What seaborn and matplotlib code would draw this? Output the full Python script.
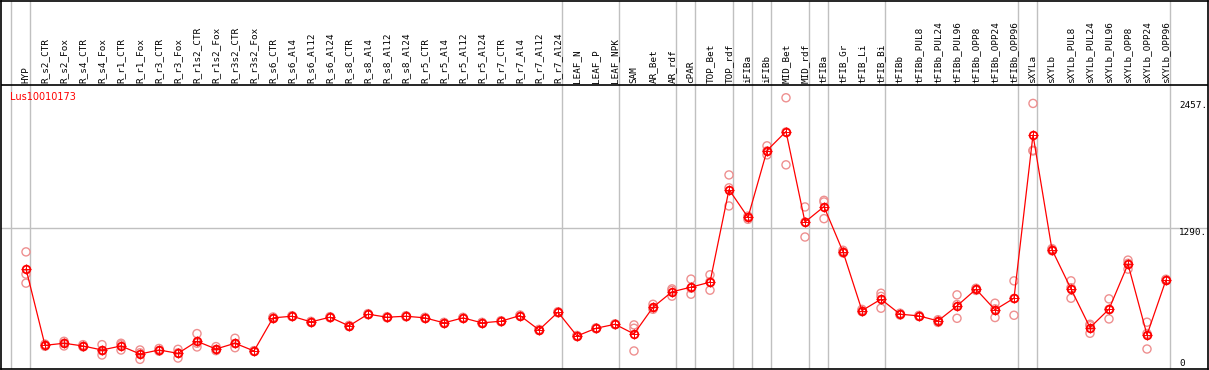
import numpy as np
import pandas as pd
import seaborn as sns
import matplotlib.pyplot as plt

# Sample names, in the order shown
samples = ['HYP', 'R_s2_CTR', 'R_s2_Fox', 'R_s4_CTR', 'R_s4_Fox', 'R_r1_CTR', 'R_r1_Fox',
           'R_r3_CTR', 'R_r3_Fox', 'R_r1s2_CTR', 'R_r1s2_Fox', 'R_r3s2_CTR', 'R_r3s2_Fox',
           'R_s6_CTR', 'R_s6_Al4', 'R_s6_Al12', 'R_s6_Al24', 'R_s8_CTR', 'R_s8_Al4',
           'R_s8_Al12', 'R_s8_Al24', 'R_r5_CTR', 'R_r5_Al4', 'R_r5_Al12', 'R_r5_Al24',
           'R_r7_CTR', 'R_r7_Al4', 'R_r7_Al12', 'R_r7_Al24', 'LEAF_N', 'LEAF_P', 'LEAF_NPK',
           'SAM', 'AR_Bet', 'AR_rdf', 'cPAR', 'TOP_Bet', 'TOP_rdf', 'iFIBa', 'iFIBb',
           'MID_Bet', 'MID_rdf', 'tFIBa', 'tFIB_Gr', 'tFIB_Li', 'tFIB_Bi', 'tFIBb',
           'tFIBb_PUL8', 'tFIBb_PUL24', 'tFIBb_PUL96', 'tFIBb_OPP8', 'tFIBb_OPP24',
           'tFIBb_OPP96', 'sXYLa', 'sXYLb', 'sXYLb_PUL8', 'sXYLb_PUL24', 'sXYLb_PUL96',
           'sXYLb_OPP8', 'sXYLb_OPP24', 'sXYLb_OPP96']

# number of samples in each tissue group (separated by grey lines)
group_sizes = [1, 28, 3, 3, 1, 2, 1, 1, 2, 1, 3, 7, 1, 7]

# mean expression
means = [914, 209, 228, 203, 166, 203, 129, 166, 135, 246, 175, 228, 157,
         462, 477, 425, 468, 388, 496, 468, 477, 462, 416, 462, 416,
         431, 483, 351, 514, 295, 366, 403, 314, 560, 702, 745, 791,
         1644, 1388, 2004, 2179, 1345, 1487, 1071, 529, 634, 496,
         480, 434, 572, 726, 536, 643, 2148, 1090, 729, 372, 542,
         957, 305, 812]

# replicates
rep1 = [1070, 220, 246, 215, 215, 228, 166, 180, 172, 317, 197, 274, 160,
        470, 482, 430, 473, 393, 501, 473, 482, 467, 421, 467, 421,
        436, 488, 356, 519, 300, 370, 407, 397, 587, 729, 819, 859,
        1779, 1400, 2047, 2490, 1484, 1545, 1085, 540, 689, 505,
        485, 445, 674, 735, 597, 803, 2438, 1100, 803, 403, 637,
        994, 422, 818]
rep2 = [865, 205, 228, 200, 160, 215, 140, 160, 140, 228, 170, 225, 155,
        460, 477, 425, 468, 388, 496, 468, 477, 462, 416, 462, 416,
        431, 483, 351, 514, 295, 366, 403, 366, 555, 715, 735, 795,
        1660, 1385, 2000, 2175, 1345, 1530, 1070, 525, 660, 495,
        480, 435, 585, 725, 545, 640, 2006, 1090, 740, 390, 540,
        965, 318, 812]
rep3 = [782, 200, 203, 195, 120, 166, 80, 155, 92, 194, 160, 187, 155,
        456, 474, 420, 463, 383, 491, 463, 472, 457, 411, 457, 411,
        426, 478, 346, 509, 290, 362, 399, 157, 541, 662, 680, 717,
        1493, 1370, 1964, 1872, 1207, 1376, 1060, 520, 551, 488,
        475, 420, 458, 715, 465, 486, 2000, 1080, 643, 320, 452,
        911, 175, 806]

gene = 'Lus10010173'
ytick_values = [2457, 1290, 0]

# ---- layout (pixels of the 1209x370 canvas) ----
W, H = 1209, 370
x0_px, dx_px = 26, 19          # first column centre, column spacing
y0_px, k = 368, 140 / 1290     # pixel of value 0, pixels per unit
header_px = 85                 # line under the sample names

def px_to_val(py):
    return (y0_px - py) / k

idx = np.arange(len(samples))
df_mean = pd.DataFrame({'idx': idx, 'value': means})
df_rep = pd.DataFrame({'idx': np.tile(idx, 3), 'value': rep1 + rep2 + rep3})

sns.set_style('white')
fig = plt.figure(figsize=(W / 100, H / 100), dpi=100)
ax = fig.add_axes([1 / W, 1 / H, (W - 2) / W, (H - 2) / H])
ax.set_xlim((1 - x0_px) / dx_px, (W - 1 - x0_px) / dx_px)
ax.set_ylim(px_to_val(H - 1), px_to_val(1))

top_val = px_to_val(header_px)

# group separators
bounds = np.cumsum([0] + group_sizes) - 1
for b in bounds:
    ax.axvline(b + 4 / dx_px, color='#c0c0c0', lw=1, zorder=0)
ax.axhline(1290, color='#c0c0c0', lw=1, zorder=0)
ax.axhline(top_val, color='black', lw=1.2, zorder=1)

# replicates
sns.scatterplot(data=df_rep, x='idx', y='value', ax=ax, marker='o', s=34,
                facecolors='none', edgecolor='#ee9090', linewidth=1.0, zorder=2)
# means
sns.lineplot(data=df_mean, x='idx', y='value', ax=ax, color='red', lw=0.9,
             marker='o', markersize=5.5, markerfacecolor='none',
             markeredgecolor='red', markeredgewidth=1.3, zorder=3)
sns.scatterplot(data=df_mean, x='idx', y='value', ax=ax, marker='+', s=50,
                color='red', linewidth=0.7, zorder=3)

# sample names
label_base = px_to_val(header_px - 2)
for i, name in enumerate(samples):
    ax.text(i, label_base, name, rotation=90, ha='center', va='bottom',
            fontsize=6.7, family='DejaVu Sans Mono', color='black')

# value labels on the right
xlab = (1179 - x0_px) / dx_px
for v in ytick_values:
    ax.text(xlab, v, f'{v}.' if v else '0', ha='left',
            va='top' if v else 'bottom', fontsize=6.7,
            family='DejaVu Sans Mono', color='black')

ax.text((10 - x0_px) / dx_px, px_to_val(92), gene, ha='left', va='top',
        fontsize=7, color='red')

ax.set_xticks([])
ax.set_yticks([])
ax.set_xlabel('')
ax.set_ylabel('')
for sp in ax.spines.values():
    sp.set_visible(True)
    sp.set_color('black')
    sp.set_linewidth(1.2)

fig.savefig('out.png', dpi=100)
